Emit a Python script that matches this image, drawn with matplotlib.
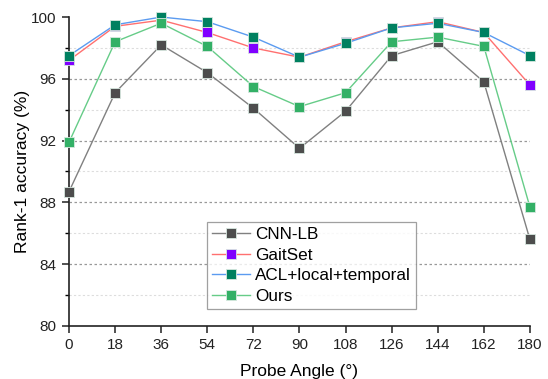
import matplotlib
matplotlib.use("Agg")
import matplotlib.pyplot as plt

angles = [0, 18, 36, 54, 72, 90, 108, 126, 144, 162, 180]
cnn_lb = [88.7, 95.1, 98.2, 96.4, 94.1, 91.5, 93.9, 97.5, 98.4, 95.8, 85.6]
gaitset = [97.2, 99.4, 99.8, 99.0, 98.0, 97.4, 98.4, 99.3, 99.7, 99.0, 95.6]
acl = [97.5, 99.5, 100.0, 99.7, 98.7, 97.4, 98.3, 99.3, 99.6, 99.0, 97.5]
ours = [91.9, 98.4, 99.6, 98.1, 95.5, 94.2, 95.1, 98.4, 98.7, 98.1, 87.7]
labels = ["CNN-LB", "GaitSet", "ACL+local+temporal", "Ours"]

plt.rcParams['font.family'] = ['Liberation Sans', 'DejaVu Sans']

fig = plt.figure(figsize=(5.48, 3.79), dpi=100)
ax = fig.add_axes([0.126, 0.140, 0.841, 0.815])

styles = [
    (cnn_lb, "#808080", "#4d4d4d"),
    (gaitset, "#ff7070", "#8000ff"),
    (acl, "#5b9bf0", "#008060"),
    (ours, "#66cc88", "#33b066"),
]
for (vals, lc, mc), lab in zip(styles, labels):
    ax.plot(angles, vals, color=lc, lw=1.0, marker='s', ms=7,
            markerfacecolor=mc, markeredgecolor='#d8e8e0', markeredgewidth=0.6,
            label=lab, clip_on=False, zorder=3)

ax.set_xlim(0, 180)
ax.set_ylim(80, 100)
ax.set_xticks(angles)
ax.set_yticks([80, 84, 88, 92, 96, 100])
ax.set_yticks([82, 86, 90, 94, 98], minor=True)
for y in [84, 88, 92, 96]:
    ax.axhline(y, color='#999999', lw=0.9, ls=(0, (2, 2)), zorder=1)
for y in [82, 86, 90, 94, 98]:
    ax.axhline(y, color='#dddddd', lw=0.8, ls=(0, (2, 2)), zorder=1)

for s in ['top', 'right']:
    ax.spines[s].set_visible(False)
for s in ['left', 'bottom']:
    ax.spines[s].set_linewidth(1.2)
    ax.spines[s].set_color('#222222')
ax.tick_params(axis='both', which='major', direction='out', length=5, width=1.1,
               labelsize=11, colors='#222222', pad=4)
ax.tick_params(axis='y', which='minor', direction='out', length=3, width=1.0)
ax.tick_params(axis='x', which='minor', bottom=False)

ax.set_xlabel("Probe Angle (°)", fontsize=12.5, labelpad=8)
ax.set_ylabel("Rank-1 accuracy (%)", fontsize=12.5, labelpad=1)

leg = ax.legend(loc='lower center', bbox_to_anchor=(0.526, 0.055), borderaxespad=0,
                fontsize=12.3, frameon=True, fancybox=False, edgecolor='#888888',
                handlelength=2.2, borderpad=0.3, labelspacing=0.33, handletextpad=0.3)
leg.get_frame().set_linewidth(0.9)

fig.savefig("out.png", dpi=100)
